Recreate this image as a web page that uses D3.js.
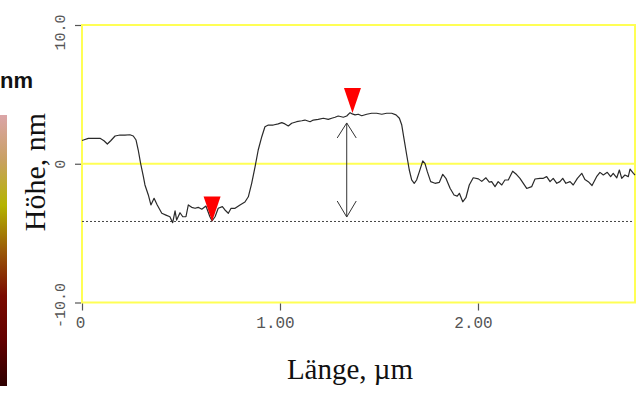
<!DOCTYPE html>
<html>
<head>
<meta charset="utf-8">
<script src="https://cdn.jsdelivr.net/npm/d3@7"></script>
<style>
  body { margin: 0; background: #fff; }
  svg { display: block; }
</style>
</head>
<body>
<svg id="chart" width="638" height="394"></svg>
<script>
// --------------------------------------------------------------------------------------------------------------------------------------
// Data (length in µm, height in nm)

const lengthUm = [0.000, 0.007, 0.032, 0.057, 0.091, 0.111, 0.128, 0.145, 0.167, 0.192, 0.217, 0.242, 0.259, 0.273, 0.284, 0.296,
    0.310, 0.318, 0.335, 0.348, 0.364, 0.380, 0.403, 0.424, 0.444, 0.458, 0.470, 0.478, 0.495, 0.509, 0.525, 0.537, 0.554,
    0.571, 0.587, 0.605, 0.626, 0.646, 0.657, 0.672, 0.688, 0.709, 0.722, 0.739, 0.753, 0.773, 0.798, 0.823, 0.840, 0.857,
    0.874, 0.890, 0.908, 0.924, 0.941, 0.966, 0.991, 1.009, 1.025, 1.042, 1.059, 1.084, 1.110, 1.126, 1.152, 1.168, 1.193,
    1.219, 1.244, 1.261, 1.278, 1.294, 1.320, 1.337, 1.354, 1.365, 1.379, 1.395, 1.413, 1.438, 1.463, 1.488, 1.514, 1.539,
    1.564, 1.586, 1.603, 1.615, 1.626, 1.640, 1.653, 1.665, 1.678, 1.690, 1.704, 1.721, 1.732, 1.744, 1.761, 1.783, 1.805,
    1.822, 1.838, 1.859, 1.879, 1.895, 1.906, 1.923, 1.939, 1.956, 1.976, 2.002, 2.019, 2.040, 2.057, 2.069, 2.086, 2.102,
    2.120, 2.136, 2.153, 2.175, 2.195, 2.212, 2.229, 2.246, 2.271, 2.288, 2.313, 2.330, 2.347, 2.364, 2.380, 2.398, 2.414,
    2.428, 2.444, 2.465, 2.481, 2.502, 2.524, 2.540, 2.557, 2.576, 2.599, 2.616, 2.633, 2.653, 2.670, 2.683, 2.701, 2.714,
    2.726, 2.742, 2.759, 2.768, 2.785, 2.793];

const heightNm = [1.69, 1.71, 1.83, 1.83, 1.83, 1.66, 1.42, 1.66, 2.00, 2.07, 2.07, 2.09, 2.00, 1.71, 0.99, 0.03,
    -0.93, -1.53, -2.25, -2.97, -2.49, -2.97, -3.57, -3.70, -3.82, -4.25, -3.40, -4.06, -3.53, -3.82, -3.82, -2.97, -3.14,
    -3.21, -3.14, -3.28, -3.05, -3.82, -4.11, -3.82, -3.21, -3.09, -3.33, -3.57, -3.21, -3.21, -2.97, -2.76, -2.38, -1.41,
    -0.23, 0.99, 1.95, 2.67, 2.79, 2.79, 2.87, 2.96, 2.87, 2.72, 2.92, 3.03, 3.10, 3.15, 3.03, 3.15, 3.20,
    3.28, 3.20, 3.28, 3.35, 3.44, 3.35, 3.44, 3.68, 3.59, 3.52, 3.57, 3.46, 3.57, 3.64, 3.64, 3.57, 3.64,
    3.64, 3.52, 3.28, 2.79, 1.83, 0.63, -0.45, -1.17, -1.41, -1.17, -0.57, 0.20, 0.03, -0.57, -1.29, -1.41, -1.34,
    -0.76, -1.05, -1.77, -2.25, -2.33, -2.13, -2.74, -2.45, -1.53, -1.01, -1.09, -1.27, -1.01, -1.32, -1.29, -1.65, -1.29,
    -1.53, -1.17, -1.17, -0.54, -0.78, -1.05, -1.41, -1.78, -1.65, -1.10, -1.05, -1.05, -0.93, -1.29, -1.05, -1.41, -1.29,
    -1.05, -1.41, -1.29, -1.53, -1.05, -0.69, -1.14, -1.29, -1.57, -0.93, -0.62, -0.81, -0.62, -0.93, -0.69, -1.01, -0.45,
    -1.05, -0.81, -0.93, -0.38, -0.69, -0.81];

// cursors (red markers), reference level and the height arrow
const markerUm = [0.657, 1.366];
const markerNm = [-4.16, 3.66];
const refLevelNm = -4.16;
const arrowUm = 1.337;
const arrowNm = [-3.84, 2.94];

const xTicks = [0, 1, 2];
const yTicks = [-10, 0, 10];
const xTickLabels = ["0", "1.00", "2.00"];
const yTickLabels = ["-10.0", "0", "10.0"];

// colour bar of the height image (top -> bottom)
const barColors = ["#dba5a8", "#c8a062", "#b4b400", "#9a5a08", "#7a0a00", "#620000", "#2e0000"];

// --------------------------------------------------------------------------------------------------------------------------------------
// Setup

const svg = d3.select("#chart");
const width = parseFloat(svg.attr("width"));
const height = parseFloat(svg.attr("height"));

const xMax = lengthUm[lengthUm.length - 1];
const x = d3.scaleLinear().domain([0, xMax]).range([82, 635]);
const y = d3.scaleLinear().domain([-10, 10]).range([302.5, 25]);

const profile = lengthUm.map((d, i) => ({ x: d, y: heightNm[i] }));

svg.append("rect").attr("width", width).attr("height", height).attr("fill", "#fff");

// --------------------------------------------------------------------------------------------------------------------------------------
// Colour bar + its unit on the left edge

const grad = svg.append("defs").append("linearGradient")
    .attr("id", "bar").attr("x1", 0).attr("x2", 0).attr("y1", 0).attr("y2", 1);
grad.selectAll("stop")
    .data(barColors)
    .join("stop")
    .attr("offset", (d, i) => i / (barColors.length - 1))
    .attr("stop-color", d => d);

svg.append("rect")
    .attr("x", 0).attr("y", 115).attr("width", 7).attr("height", 271)
    .attr("fill", "url(#bar)");

svg.append("text")
    .attr("x", 0).attr("y", 88)
    .style("font-family", "Liberation Sans, Arial, sans-serif")
    .style("font-weight", "bold")
    .style("font-size", "22px")
    .style("fill", "#111")
    .text("nm");

// --------------------------------------------------------------------------------------------------------------------------------------
// Frame, zero line

const frame = svg.append("g");
frame.append("rect")
    .attr("x", x(0)).attr("y", y(10))
    .attr("width", x(xMax) - x(0)).attr("height", y(-10) - y(10))
    .attr("fill", "none")
    .attr("stroke", "#ffff55")
    .attr("stroke-width", 2);

frame.append("line")
    .attr("x1", x(0)).attr("x2", x(xMax))
    .attr("y1", y(0)).attr("y2", y(0))
    .attr("stroke", "#ffff55")
    .attr("stroke-width", 2);

// --------------------------------------------------------------------------------------------------------------------------------------
// Axes

const tickFont = "Liberation Mono, Courier New, monospace";

const yAxis = svg.append("g")
    .attr("transform", `translate(${x(0) - 1},0)`)
    .call(d3.axisLeft(y).tickValues(yTicks).tickSize(6).tickFormat((d, i) => yTickLabels[i]));
yAxis.select(".domain").remove();
yAxis.selectAll(".tick line").attr("stroke", "#555").attr("stroke-width", 1.2);
yAxis.selectAll(".tick text")
    .attr("x", 0).attr("y", 0).attr("dy", null)
    .attr("text-anchor", "middle")
    .attr("dominant-baseline", "central")
    .attr("transform", d => `translate(-20,${d === 10 ? 7 : d === -10 ? 2.5 : 0}) rotate(-90)`)
    .style("font-family", tickFont)
    .style("font-size", "15px")
    .style("fill", "#555");

const xAxis = svg.append("g")
    .attr("transform", `translate(0,${y(-10) + 1})`)
    .call(d3.axisBottom(x).tickValues(xTicks).tickSize(7).tickFormat((d, i) => xTickLabels[i]));
xAxis.select(".domain").remove();
xAxis.selectAll(".tick line").attr("stroke", "#555").attr("stroke-width", 1.2);
xAxis.selectAll(".tick text")
    .attr("y", 13).attr("dy", "0.71em")
    .attr("dx", d => d === 0 ? -2 : -5)
    .style("font-family", tickFont)
    .style("font-size", "16px")
    .style("fill", "#555");

// --------------------------------------------------------------------------------------------------------------------------------------
// Axis titles

svg.append("text")
    .attr("transform", "translate(45,172) rotate(-90)")
    .attr("text-anchor", "middle")
    .style("font-family", "Liberation Serif, Times New Roman, serif")
    .style("font-size", "30px")
    .style("fill", "#111")
    .text("Höhe, nm");

svg.append("text")
    .attr("x", 350).attr("y", 379)
    .attr("text-anchor", "middle")
    .style("font-family", "Liberation Serif, Times New Roman, serif")
    .style("font-size", "29px")
    .style("fill", "#111")
    .text("Länge, µm");

// --------------------------------------------------------------------------------------------------------------------------------------
// Reference level (dotted), profile, arrow, markers

svg.append("line")
    .attr("x1", x(0)).attr("x2", x(2.78))
    .attr("y1", y(refLevelNm)).attr("y2", y(refLevelNm))
    .attr("stroke", "#444")
    .attr("stroke-width", 1)
    .attr("stroke-dasharray", "2,2");

const line = d3.line().x(d => x(d.x)).y(d => y(d.y)).curve(d3.curveLinear);

svg.append("path")
    .datum(profile)
    .attr("d", line)
    .attr("fill", "none")
    .attr("stroke", "#2a2a2a")
    .attr("stroke-width", 1.2)
    .attr("stroke-linejoin", "round");

const ax = x(arrowUm), aTop = y(arrowNm[1]), aBot = y(arrowNm[0]);
const arrow = svg.append("g").attr("stroke", "#333").attr("stroke-width", 1).attr("fill", "none");
arrow.append("line").attr("x1", ax).attr("x2", ax).attr("y1", aTop).attr("y2", aBot);
arrow.append("path").attr("d", `M${ax - 9.5},${aTop + 15}L${ax},${aTop}L${ax + 9.5},${aTop + 15}`);
arrow.append("path").attr("d", `M${ax - 9.5},${aBot - 16}L${ax},${aBot}L${ax + 9.5},${aBot - 16}`);

svg.append("g")
    .selectAll("path")
    .data(markerUm.map((d, i) => ({ x: d, y: markerNm[i] })))
    .join("path")
    .attr("d", d => {
        const px = x(d.x), py = y(d.y);
        return `M${px},${py}L${px - 8.5},${py - 25}L${px + 8.5},${py - 25}Z`;
    })
    .attr("fill", "#ff0000");
</script>
</body>
</html>
